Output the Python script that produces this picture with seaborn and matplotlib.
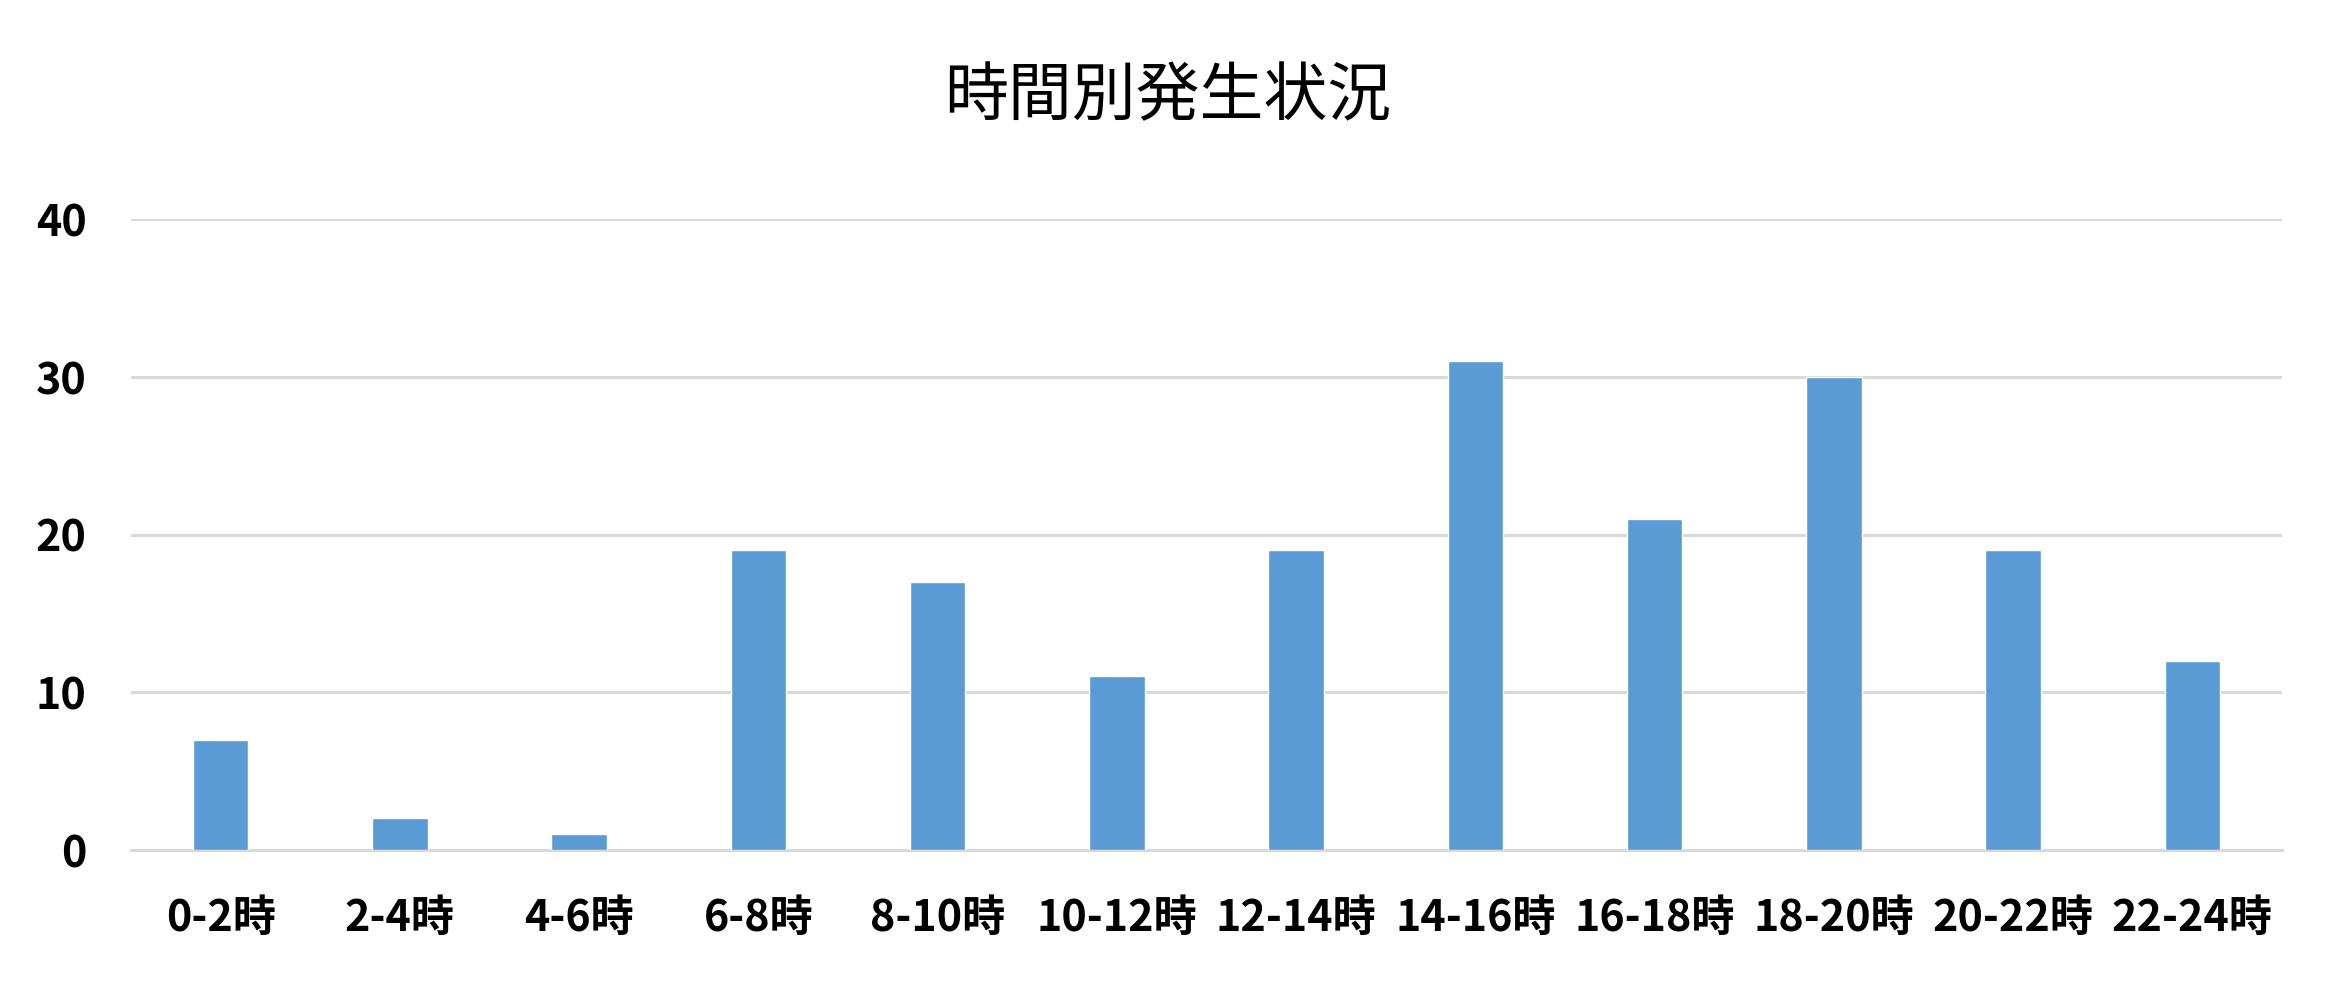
import numpy as np
import pandas as pd
import matplotlib
matplotlib.use("Agg")
import matplotlib.pyplot as plt
import seaborn as sns

# data
hours = ["0-2時", "2-4時", "4-6時", "6-8時", "8-10時", "10-12時",
         "12-14時", "14-16時", "16-18時", "18-20時", "20-22時", "22-24時"]
counts = [7, 2, 1, 19, 17, 11, 19, 31, 21, 30, 19, 12]
y_ticks = [0, 10, 20, 30, 40]
title = "時間別発生状況"

sns.set_theme(style="white")
plt.rcParams["font.family"] = ["Noto Sans CJK JP", "DejaVu Sans"]
plt.rcParams["text.color"] = "black"
plt.rcParams["xtick.color"] = "black"
plt.rcParams["ytick.color"] = "black"

df = pd.DataFrame({"hour": hours, "count": counts})

fig = plt.figure(figsize=(23.34, 9.9), dpi=100)
ax = fig.add_axes([131 / 2334, 1 - 850 / 990, (2282 - 131) / 2334, (850 - 219) / 990])

sns.barplot(data=df, x="hour", y="count", color="#5B9BD5", saturation=1,
            width=0.31, ax=ax, zorder=3)

ax.set_ylim(0, 40)
ax.set_xlim(-0.5, len(hours) - 0.5)
ax.set_yticks(y_ticks)
ax.yaxis.grid(True, color="#D9D9D9", linewidth=2.2, zorder=0)
ax.set_axisbelow(True)
for side in ["top", "right", "left"]:
    ax.spines[side].set_visible(False)
ax.spines["bottom"].set_color("#D9D9D9")
ax.spines["bottom"].set_linewidth(2.2)
ax.spines["bottom"].set_zorder(1)
ax.tick_params(axis="x", length=0, pad=33, labelsize=31)
ax.tick_params(axis="y", length=0, pad=32, labelsize=31)
for lbl in ax.get_xticklabels() + ax.get_yticklabels():
    lbl.set_fontweight("bold")
ax.set_xlabel("")
ax.set_ylabel("")

fig.text(1168 / 2334, 1 - 97 / 990, title, ha="center", va="center",
         fontsize=46, color="black")

fig.savefig("out.png", dpi=100, facecolor="white")
